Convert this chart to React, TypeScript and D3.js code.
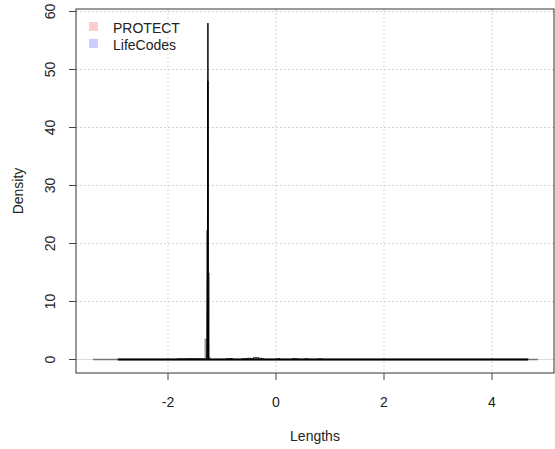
import React from "react";
import * as d3 from "d3";

const xTicks = [-2, 0, 2, 4];
const yTicks = [0, 10, 20, 30, 40, 50, 60];
const legendLabels = ["PROTECT", "LifeCodes"];
const legendColors = ["#ffcccc", "#ccccff"];

// histogram extents (bottom edges of all bins)
const protectRange = [-3.39, 4.85];
const densityRange = [-2.93, 4.67];

// non-empty bins near the spike
const protectX0 = [-1.315, -1.29];
const protectX1 = [-1.29, -1.266];
const protectD = [3.5, 22.2];
const lifeX0 = [-1.262, -1.232];
const lifeX1 = [-1.232, -1.22];
const lifeD = [14.9, 0.4];

// small bins (tails)
const tailX0 = [-1.83, -1.6, -1.45, -0.92, -0.87, -0.82, -0.62, -0.57, -0.52, -0.47, -0.42, -0.37, -0.32, -0.27, 0.02, 0.3, 0.36, 0.54, 0.79];
const tailX1 = [-1.6, -1.45, -1.32, -0.87, -0.82, -0.8, -0.57, -0.52, -0.47, -0.42, -0.37, -0.32, -0.27, -0.24, 0.07, 0.35, 0.41, 0.59, 0.85];
const tailD = [0.12, 0.15, 0.12, 0.15, 0.18, 0.15, 0.15, 0.2, 0.25, 0.2, 0.3, 0.35, 0.25, 0.18, 0.15, 0.15, 0.12, 0.15, 0.12];

// density curves (black)
const densAX = [-2.93, -1.3, -1.27, -1.265, -1.261, -1.257, -1.25, 4.67];
const densAY = [0, 0, 0.3, 20, 58, 8, 0, 0];
const densBX = [-1.28, -1.27, -1.266, -1.258, -1.254, -1.248];
const densBY = [0, 15, 48, 48, 12, 0];

export default function App() {
  const W = 555, H = 449;
  const L = 76, R = 554, T = 9, B = 373;
  const x = d3.scaleLinear().domain([-3.704, 5.148]).range([L, R]);
  const y = d3.scaleLinear().domain([-2.33, 60.43]).range([B, T]);
  const font = "'Liberation Sans', Arial, sans-serif";
  const line = d3.line<[number, number]>().x((d) => x(d[0])).y((d) => y(d[1]));
  const dA = densAX.map((v, i) => [v, densAY[i]] as [number, number]);
  const dB = densBX.map((v, i) => [v, densBY[i]] as [number, number]);

  return (
    <svg width={W} height={H} style={{ position: "absolute", left: 0, top: 0, background: "#fff" }} fontFamily={font}>
      {/* grid */}
      {xTicks.map((t) => (
        <line key={"gx" + t} x1={x(t)} x2={x(t)} y1={T} y2={B} stroke="#d3d3d3" strokeDasharray="2,2" />
      ))}
      {yTicks.map((t) => (
        <line key={"gy" + t} x1={L} x2={R} y1={y(t)} y2={y(t)} stroke="#d3d3d3" strokeDasharray="2,2" />
      ))}
      <line x1={L} x2={R} y1={y(0)} y2={y(0)} stroke="#dcdcdc" />
      {/* histogram baselines */}
      <line x1={x(protectRange[0])} x2={x(protectRange[1])} y1={y(0)} y2={y(0)} stroke="#777" strokeWidth={1.5} />
      {/* bars */}
      {tailX0.map((v, i) => (
        <rect key={"t" + i} x={x(v)} width={x(tailX1[i]) - x(v)} y={y(tailD[i])} height={y(0) - y(tailD[i])} fill="rgba(0,0,255,0.2)" stroke="#000" strokeWidth={0.5} />
      ))}
      {protectX0.map((v, i) => (
        <rect key={"p" + i} x={x(v)} width={x(protectX1[i]) - x(v)} y={y(protectD[i])} height={y(0) - y(protectD[i])} fill="rgba(120,120,160,0.6)" stroke="#666" strokeWidth={0.6} />
      ))}
      {lifeX0.map((v, i) => (
        <rect key={"l" + i} x={x(v)} width={x(lifeX1[i]) - x(v)} y={y(lifeD[i])} height={y(0) - y(lifeD[i])} fill="rgba(0,0,255,0.3)" stroke="#556" strokeWidth={0.5} />
      ))}
      <line x1={x(densityRange[0])} x2={x(densityRange[1])} y1={y(0)} y2={y(0)} stroke="#000" strokeWidth={2} />
      <path d={line(dA) || ""} fill="none" stroke="#000" strokeWidth={1} />
      <path d={line(dB) || ""} fill="none" stroke="#000" strokeWidth={1} />
      {/* box */}
      <rect x={L} y={T} width={R - L} height={B - T} fill="none" stroke="#333" strokeWidth={1} />
      {/* y axis */}
      {yTicks.map((t) => (
        <g key={"yt" + t}>
          <line x1={L - 7} x2={L} y1={y(t)} y2={y(t)} stroke="#444" />
          <text transform={`translate(${L - 21},${y(t)}) rotate(-90)`} textAnchor="middle" fontSize={14} fill="#222">{t}</text>
        </g>
      ))}
      <text transform={`translate(${23},${(T + B) / 2}) rotate(-90)`} textAnchor="middle" fontSize={14} fill="#222">Density</text>
      {/* x axis */}
      {xTicks.map((t) => (
        <g key={"xt" + t}>
          <line x1={x(t)} x2={x(t)} y1={B} y2={B + 7} stroke="#444" />
          <text x={x(t)} y={407} textAnchor="middle" fontSize={14} fill="#222">{t}</text>
        </g>
      ))}
      <text x={(L + R) / 2} y={441} textAnchor="middle" fontSize={14} fill="#222">Lengths</text>
      {/* legend */}
      {legendLabels.map((lab, i) => (
        <g key={lab}>
          <rect x={89} y={22 + i * 17} width={9} height={9} fill={legendColors[i]} />
          <text x={113} y={33 + i * 17} fontSize={14} fill="#222">{lab}</text>
        </g>
      ))}
    </svg>
  );
}
